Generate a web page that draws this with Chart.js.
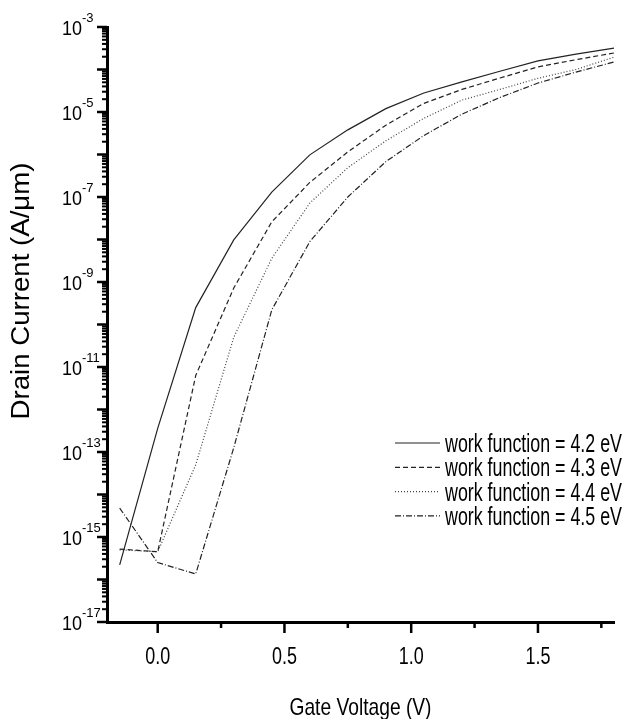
<!DOCTYPE html>
<html>
<head>
<meta charset="utf-8">
<script src="https://cdn.jsdelivr.net/npm/chart.js@4.4.0/dist/chart.umd.min.js"></script>
<style>
html,body{margin:0;padding:0;background:#fff;}
#wrap{width:626px;height:719px;}
</style>
</head>
<body>
<div id="wrap"><canvas id="myChart" width="626" height="719"></canvas></div>
<script>
// DATA
var gateVoltage = [-0.15, 0.0, 0.15, 0.3, 0.45, 0.6, 0.75, 0.9, 1.05, 1.2, 1.35, 1.5, 1.65, 1.8];
var current42 = [2.2e-16, 3.6e-13, 2.5e-10, 9.8e-9, 1.3e-7, 9.8e-7, 3.8e-6, 1.2e-5, 2.8e-5, 5.1e-5, 9.1e-5, 1.6e-4, 2.3e-4, 3.2e-4];
var current43 = [5.2e-16, 4.5e-16, 6.3e-12, 7.2e-10, 2.6e-8, 2.2e-7, 1.15e-6, 4.9e-6, 1.6e-5, 3.4e-5, 6.3e-5, 1.15e-4, 1.7e-4, 2.45e-4];
var current44 = [5.0e-16, 4.5e-16, 5.0e-14, 5.0e-11, 3.6e-9, 7.2e-8, 4.9e-7, 2.1e-6, 7.1e-6, 1.9e-5, 3.4e-5, 6.2e-5, 1.0e-4, 1.95e-4];
var current45 = [4.8e-15, 2.5e-16, 1.35e-16, 1.26e-13, 2.2e-10, 8.9e-9, 1.0e-7, 6.8e-7, 2.8e-6, 8.9e-6, 2.2e-5, 4.8e-5, 8.7e-5, 1.5e-4];
var seriesLabels = ['work function = 4.2 eV', 'work function = 4.3 eV', 'work function = 4.4 eV', 'work function = 4.5 eV'];
var seriesDash = [[], [5, 3], [1, 2], [6, 2, 1, 2]];
var xTickValues = [0, 0.25, 0.5, 0.75, 1.0, 1.25, 1.5, 1.75];
var yLabelExponents = [-3, -5, -7, -9, -11, -13, -15, -17];

function toPoints(ys) {
  return gateVoltage.map(function(v, i) { return {x: v, y: ys[i]}; });
}

function isHalf(v) {
  return Math.abs(v / 0.5 - Math.round(v / 0.5)) < 1e-6;
}

//Builds every minor/major tick of the log axis (1..9 x 10^n)
function logTicks() {
  var t = [];
  for (var e = -17; e <= -3; e++) {
    for (var k = 1; k <= 9; k++) {
      if (e === -3 && k > 1) break;
      t.push({value: k * Math.pow(10, e), major: k === 1});
    }
  }
  return t;
}

//Draws text squeezed to a given width (the picture uses a narrow face)
function narrowText(ctx, text, x, y, size, width, align) {
  ctx.save();
  ctx.font = size + 'px "Liberation Sans", Arial, sans-serif';
  var w = ctx.measureText(text).width;
  ctx.translate(x, y);
  ctx.scale(width / w, 1);
  ctx.textAlign = align;
  ctx.textBaseline = 'alphabetic';
  ctx.fillText(text, 0, 0);
  ctx.restore();
}

//Draws tick marks, axis labels, titles and legend
var decorPlugin = {
  id: 'decor',
  afterDraw: function(chart) {
    var ctx = chart.ctx;
    var area = chart.chartArea;
    var xs = chart.scales.x, ys = chart.scales.y;
    ctx.save();
    ctx.strokeStyle = '#000';
    ctx.fillStyle = '#000';
    ctx.lineCap = 'butt';

    // Y TICKS
    ys.ticks.forEach(function(t) {
      var py = ys.getPixelForValue(t.value);
      var len = t.major ? 10 : 5;
      ctx.lineWidth = t.major ? 2.5 : 2;
      ctx.beginPath();
      ctx.moveTo(area.left - len, py);
      ctx.lineTo(area.left, py);
      ctx.stroke();
    });

    // X TICKS + LABELS
    xs.ticks.forEach(function(t) {
      var px = xs.getPixelForValue(t.value);
      var major = isHalf(t.value);
      ctx.lineWidth = 2.5;
      ctx.beginPath();
      ctx.moveTo(px, area.bottom);
      ctx.lineTo(px, area.bottom + (major ? 11 : 6));
      ctx.stroke();
      if (major) {
        narrowText(ctx, t.value.toFixed(1), px, 664, 24, 25, 'center');
      }
    });

    // X TITLE
    narrowText(ctx, 'Gate Voltage (V)', (area.left + area.right) / 2, 715, 24, 142, 'center');

    // Y LABELS (10 with superscript exponent)
    yLabelExponents.forEach(function(e) {
      var py = ys.getPixelForValue(Math.pow(10, e));
      narrowText(ctx, '10', 82, py + 8, 21, 20, 'right');
      ctx.font = '13px "Liberation Sans", Arial, sans-serif';
      ctx.textAlign = 'left';
      ctx.textBaseline = 'alphabetic';
      ctx.fillText(String(e), 82, py - 5);
    });

    // Y TITLE
    ctx.save();
    ctx.font = '26px "Liberation Sans", Arial, sans-serif';
    var tw = ctx.measureText('Drain Current (A/\u03bcm)').width;
    ctx.translate(22, 291);
    ctx.rotate(-Math.PI / 2);
    ctx.scale(257 / tw, 1);
    ctx.textAlign = 'center';
    ctx.textBaseline = 'middle';
    ctx.fillText('Drain Current (A/\u03bcm)', 0, 0);
    ctx.restore();

    // LEGEND
    chart.data.datasets.forEach(function(ds, i) {
      var ry = 443 + i * 24.3;
      ctx.save();
      ctx.strokeStyle = ds.borderColor;
      ctx.lineWidth = 1.2;
      ctx.setLineDash(ds.borderDash || []);
      ctx.beginPath();
      ctx.moveTo(395, ry);
      ctx.lineTo(440, ry);
      ctx.stroke();
      ctx.restore();
      narrowText(ctx, ds.label, 445, ry + 9, 25, 177, 'left');
    });
    ctx.restore();
  }
};

var allCurrents = [current42, current43, current44, current45];
var ctx = document.getElementById('myChart').getContext('2d');
var myChart = new Chart(ctx, {
  type: 'line',
  data: {
    datasets: allCurrents.map(function(c, i) {
      return {
        label: seriesLabels[i],
        data: toPoints(c),
        borderColor: i === 2 ? '#444' : '#222',
        borderWidth: 1.2,
        borderDash: seriesDash[i],
        pointRadius: 0,
        tension: 0,
        fill: false
      };
    })
  },
  options: {
    responsive: false,
    animation: false,
    layout: {padding: {left: 0, right: 12, top: 27, bottom: 0}},
    plugins: {
      legend: {display: false},
      tooltip: {enabled: false}
    },
    scales: {
      x: {
        type: 'linear',
        min: -0.2,
        max: 1.8,
        afterBuildTicks: function(s) { s.ticks = xTickValues.map(function(v) { return {value: v}; }); },
        afterFit: function(s) { s.height = 97; },
        grid: {display: false, drawTicks: false},
        border: {display: true, width: 3, color: '#000'},
        ticks: {display: false}
      },
      y: {
        type: 'logarithmic',
        min: 1e-17,
        max: 1e-3,
        afterBuildTicks: function(s) { s.ticks = logTicks(); },
        afterFit: function(s) { s.width = 107; },
        grid: {display: false, drawTicks: false},
        border: {display: true, width: 3, color: '#000'},
        ticks: {display: false}
      }
    }
  },
  plugins: [decorPlugin]
});
</script>
</body>
</html>
